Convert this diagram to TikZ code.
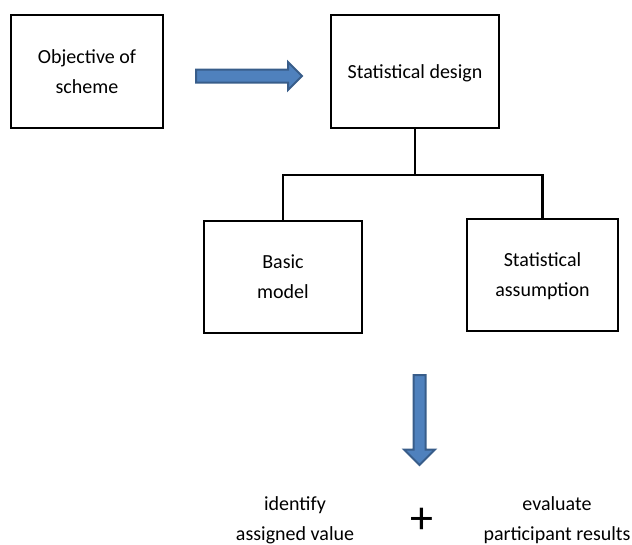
\documentclass[tikz,border=0pt]{standalone}
\usepackage{fontspec}
\setmainfont{Carlito}
\usetikzlibrary{shapes.arrows}

\definecolor{arrowfill}{HTML}{4F81BD}
\definecolor{arrowline}{HTML}{385D8A}

\tikzset{
    box/.style={draw, line width=2.5pt, align=center, inner sep=0pt, text depth=0pt},
    tree/.style={line width=2.5pt},
    bigarrow/.style={single arrow, draw=arrowline, fill=arrowfill, line width=2pt, inner xsep=0pt},
}

\begin{document}
\begin{tikzpicture}[x=1pt, y=-1pt, font=\fontsize{20}{30}\selectfont]
    \useasboundingbox (0,0) rectangle (632,544);

    % top row
    \node[box, minimum width=152, minimum height=113] (objective) at (87,71.5) {Objective of\\scheme};
    \node[box, minimum width=168, minimum height=113] (design) at (415,71.5) {Statistical design};
    \node[bigarrow, inner ysep=5.5pt, single arrow head extend=7.5pt,
        minimum height=106, anchor=tail] (toDesign) at (195,76) {};

    % second row
    \node[box, minimum width=158, minimum height=112] (basic) at (283,277) {Basic\\model};
    \node[box, minimum width=151, minimum height=112] (assume) at (542.5,275) {Statistical\\assumption};

    \coordinate (split) at (415,175);
    \draw[tree] (design.south) -- (split);
    \draw[tree] (basic.north) |- (split) -| (assume.north);

    % result
    \node[bigarrow, inner ysep=5pt, single arrow head extend=9.5pt,
        minimum height=90, rotate=-90, anchor=tail] (toResult) at (419.5,374) {};

    \node[align=center] (assigned) at (295,520) {identify\\assigned value};
    \node[font=\fontsize{46}{46}\selectfont] (plus) at (422,521) {+};
    \node[align=center] (evaluate) at (557,520) {evaluate\\participant results};
\end{tikzpicture}
\end{document}
